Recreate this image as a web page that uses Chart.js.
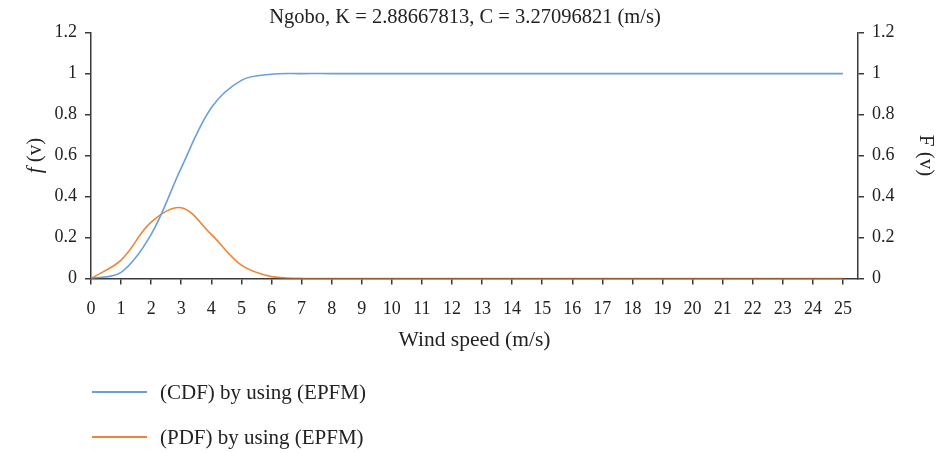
<!DOCTYPE html>
<html>
<head>
<meta charset="utf-8">
<script src="https://cdn.jsdelivr.net/npm/chart.js@4.4.1/dist/chart.umd.min.js"></script>
<style>
  html, body { margin: 0; padding: 0; background: #fff; }
  #wrap { position: relative; width: 943px; height: 453px; }
  canvas { display: block; }
  .leg { position: absolute; left: 92px; font-family: "Liberation Serif", "Times New Roman", serif; font-size: 21px; color: #222; display: flex; align-items: center; white-space: nowrap; height: 24px; }
  .leg .sw { width: 55px; height: 2px; margin-right: 13px; }
</style>
</head>
<body>
<div id="wrap">
  <canvas id="c" width="943" height="453"></canvas>
  <div class="leg" id="leg0" style="top:380px"><span class="sw"></span><span class="tx"></span></div>
  <div class="leg" id="leg1" style="top:425px"><span class="sw"></span><span class="tx"></span></div>
</div>
<script>
// ---- data ----
const chartTitle = 'Ngobo, K = 2.88667813, C = 3.27096821 (m/s)';
const windSpeed = [0,1,2,3,4,5,6,7,8,9,10,11,12,13,14,15,16,17,18,19,20,21,22,23,24,25];
const cdfValues = [0,0.03,0.215,0.54,0.833,0.967,0.997,1,1,1,1,1,1,1,1,1,1,1,1,1,1,1,1,1,1,1];
const pdfValues = [0,0.09,0.275,0.345,0.215,0.065,0.009,0.0005,0,0,0,0,0,0,0,0,0,0,0,0,0,0,0,0,0,0];
const yTickLabels = ['0','0.2','0.4','0.6','0.8','1','1.2'];
const cdfLabel = '(CDF) by using (EPFM)';
const pdfLabel = '(PDF) by using (EPFM)';
const xTitle = 'Wind speed (m/s)';
const yLeftTitleItalic = 'f';
const yLeftTitleRest = ' (v)';
const yRightTitle = 'F (v)';

const blue = '#6B9FD9';
const orange = '#EE8436';
const axisColor = '#3a3a3a';
const textColor = '#222';
const FONT = '"Liberation Serif", "Times New Roman", serif';

const toXY = (vals) => vals.map((v, i) => ({ x: windSpeed[i], y: v }));

const leftTitlePlugin = {
  id: 'leftTitle',
  afterDraw(chart) {
    const { ctx, chartArea } = chart;
    const cy = (chartArea.top + chartArea.bottom) / 2;
    const cx = 35;
    ctx.save();
    ctx.translate(cx, cy);
    ctx.rotate(-Math.PI / 2);
    ctx.fillStyle = textColor;
    ctx.textBaseline = 'middle';
    ctx.font = 'italic 21px ' + FONT;
    const w1 = ctx.measureText(yLeftTitleItalic).width;
    ctx.font = '21px ' + FONT;
    const w2 = ctx.measureText(yLeftTitleRest).width;
    const x0 = -(w1 + w2) / 2;
    ctx.textAlign = 'left';
    ctx.font = 'italic 21px ' + FONT;
    ctx.fillText(yLeftTitleItalic, x0, 0);
    ctx.font = '21px ' + FONT;
    ctx.fillText(yLeftTitleRest, x0 + w1, 0);
    ctx.restore();
  }
};

const gridOpts = { drawOnChartArea: false, drawTicks: true, tickLength: 6, color: axisColor, lineWidth: 1.5 };
const borderOpts = { display: true, color: axisColor, width: 1.5 };
const tickFont = { family: FONT, size: 18 };

const chart = new Chart(document.getElementById('c'), {
  type: 'line',
  data: {
    datasets: [
      { label: cdfLabel, data: toXY(cdfValues), yAxisID: 'y2', borderColor: blue, backgroundColor: blue, borderWidth: 1.6, pointRadius: 0, tension: 0.35 },
      { label: pdfLabel, data: toXY(pdfValues), yAxisID: 'y', borderColor: orange, backgroundColor: orange, borderWidth: 1.6, pointRadius: 0, tension: 0.35 }
    ]
  },
  options: {
    responsive: false,
    animation: false,
    layout: { padding: { left: 0, right: 13, top: 0, bottom: 99.6 } },
    plugins: {
      legend: { display: false },
      tooltip: { enabled: false },
      title: { display: true, text: chartTitle, color: textColor, font: { family: FONT, size: 20.5, weight: 'normal' }, padding: { top: 5, bottom: 3 } }
    },
    scales: {
      x: {
        type: 'linear', min: 0, max: 25.5,
        afterBuildTicks: (s) => { s.ticks = windSpeed.map(v => ({ value: v })); },
        ticks: { autoSkip: false, maxRotation: 0, color: textColor, font: tickFont, padding: 14, callback: (v) => String(v) },
        grid: gridOpts, border: borderOpts,
        title: { display: true, text: xTitle, color: textColor, font: { family: FONT, size: 21.5 }, padding: { top: -6.5, bottom: 0 } }
      },
      y: {
        position: 'left', min: 0, max: 1.2,
        afterBuildTicks: (s) => { s.ticks = yTickLabels.map((t, i) => ({ value: i * 0.2 })); },
        afterFit: (s) => { s.width = 91; },
        ticks: { color: textColor, font: tickFont, padding: 8, callback: (v, i) => yTickLabels[i] },
        grid: gridOpts, border: borderOpts
      },
      y2: {
        position: 'right', min: 0, max: 1.2,
        afterBuildTicks: (s) => { s.ticks = yTickLabels.map((t, i) => ({ value: i * 0.2 })); },
        afterFit: (s) => { s.width = 72; },
        ticks: { color: textColor, font: tickFont, padding: 8, callback: (v, i) => yTickLabels[i] },
        grid: gridOpts, border: borderOpts,
        title: { display: true, text: yRightTitle, color: textColor, font: { family: FONT, size: 21 }, padding: { top: -8, bottom: 0 } }
      }
    }
  },
  plugins: [leftTitlePlugin]
});

// HTML legend built from datasets
chart.data.datasets.forEach((ds, i) => {
  const el = document.getElementById('leg' + i);
  el.querySelector('.sw').style.background = ds.borderColor;
  el.querySelector('.tx').textContent = ds.label;
});
</script>
</body>
</html>
